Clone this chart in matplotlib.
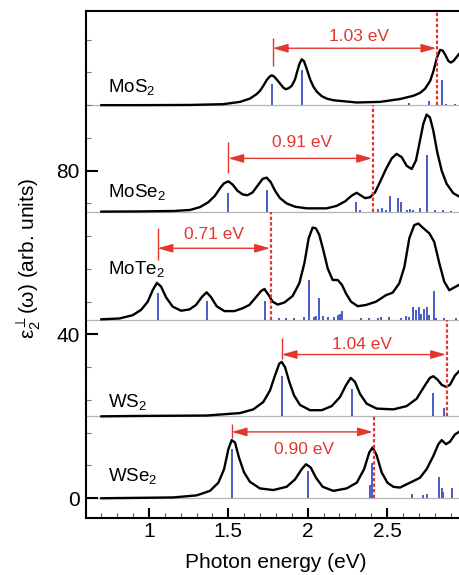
import matplotlib
matplotlib.use("Agg")
import matplotlib.pyplot as plt
from matplotlib.ticker import MultipleLocator, FixedLocator, FuncFormatter

plt.rcParams['font.family'] = ['Liberation Sans', 'DejaVu Sans']
plt.rcParams['mathtext.fontset'] = 'custom'
plt.rcParams['mathtext.rm'] = 'Liberation Sans'
plt.rcParams['mathtext.it'] = 'Liberation Sans:italic'
plt.rcParams['mathtext.bf'] = 'Liberation Sans:bold'
plt.rcParams['mathtext.fallback'] = 'stixsans'

# ---------------- data ----------------
materials = ['MoS$_2$', 'MoSe$_2$', 'MoTe$_2$', 'WS$_2$', 'WSe$_2$']
offsets = [96, 70, 43.6, 20, 0]
panel_tops = [119, 96, 70, 43.6, 20]
label_y = [99.3, 73.6, 54.8, 22.4, 4.1]

mos2_e = [0.70, 0.943, 1.258, 1.468, 1.573, 1.636, 1.678, 1.699, 1.720, 1.741,
          1.758, 1.773, 1.788, 1.804, 1.825, 1.846, 1.861, 1.878, 1.899, 1.920,
          1.935, 1.947, 1.962, 1.977, 1.994, 2.015, 2.036, 2.057, 2.088, 2.120,
          2.162, 2.309, 2.456, 2.582, 2.666, 2.708, 2.739, 2.771, 2.792, 2.813,
          2.834, 2.851, 2.865, 2.886, 2.901, 2.918, 2.939, 2.953]
mos2_v = [0.0, 0.0, 0.05, 0.24, 0.8, 1.6, 2.7, 3.5, 4.7, 6.1,
          6.9, 7.3, 7.0, 6.3, 5.3, 4.3, 3.9, 4.1, 4.7, 6.3,
          8.4, 10.0, 11.2, 10.7, 8.8, 6.3, 4.5, 3.3, 2.2, 1.6,
          1.2, 0.65, 0.8, 1.5, 2.3, 3.0, 4.0, 5.9, 8.3, 11.5,
          13.5, 13.3, 12.4, 10.8, 10.4, 10.8, 11.8, 12.5]

mose2_e = [0.70, 0.943, 1.153, 1.258, 1.321, 1.374, 1.416, 1.447, 1.472, 1.500,
           1.527, 1.557, 1.590, 1.620, 1.653, 1.689, 1.716, 1.741, 1.767, 1.794,
           1.825, 1.867, 1.920, 1.993, 2.119, 2.182, 2.235, 2.277, 2.308, 2.333,
           2.361, 2.392, 2.424, 2.455, 2.493, 2.529, 2.560, 2.592, 2.623, 2.655,
           2.682, 2.707, 2.728, 2.749, 2.770, 2.791, 2.816, 2.844, 2.875, 2.917,
           2.953]
mose2_v = [0.0, 0.05, 0.15, 0.4, 1.1, 2.3, 3.9, 5.7, 6.9, 7.4,
           6.6, 5.1, 4.2, 4.0, 4.7, 6.6, 8.0, 8.3, 7.2, 5.1,
           3.3, 2.0, 1.2, 0.8, 0.8, 1.4, 2.5, 3.9, 4.6, 4.0,
           3.3, 3.5, 4.7, 7.2, 10.4, 13.0, 14.1, 13.3, 11.2, 10.4,
           12.5, 17.3, 21.4, 23.7, 23.0, 19.8, 14.5, 10.0, 6.8, 4.5,
           3.7]

mote2_e = [0.70, 0.813, 0.897, 0.950, 0.992, 1.023, 1.050, 1.076, 1.107, 1.149,
           1.202, 1.254, 1.296, 1.334, 1.363, 1.391, 1.426, 1.475, 1.538, 1.590,
           1.632, 1.674, 1.706, 1.727, 1.754, 1.779, 1.811, 1.853, 1.905, 1.947,
           1.979, 2.006, 2.031, 2.052, 2.073, 2.098, 2.126, 2.157, 2.189, 2.216,
           2.241, 2.273, 2.315, 2.367, 2.430, 2.493, 2.535, 2.577, 2.609, 2.640,
           2.671, 2.697, 2.724, 2.766, 2.797, 2.829, 2.860, 2.892, 2.924, 2.953]
mote2_v = [0.1, 0.3, 1.1, 2.4, 4.4, 7.2, 9.0, 8.1, 5.5, 3.2,
           2.2, 2.5, 3.6, 5.6, 6.7, 5.5, 3.3, 2.1, 2.1, 2.8,
           3.6, 5.5, 7.0, 7.5, 6.0, 4.4, 3.7, 4.2, 5.8, 8.9,
           13.8, 19.9, 22.5, 22.3, 20.7, 17.0, 12.5, 9.7, 9.7, 8.5,
           6.4, 4.4, 3.3, 3.6, 4.4, 6.0, 6.6, 8.9, 12.9, 19.9,
           23.1, 23.5, 22.5, 21.1, 19.0, 13.8, 9.3, 7.2, 7.9, 8.5]

ws2_e = [0.70, 0.943, 1.363, 1.573, 1.657, 1.720, 1.762, 1.794, 1.821, 1.836,
         1.857, 1.884, 1.914, 1.951, 2.014, 2.088, 2.151, 2.203, 2.241, 2.271,
         2.298, 2.329, 2.371, 2.434, 2.539, 2.623, 2.686, 2.739, 2.770, 2.791,
         2.817, 2.844, 2.871, 2.896, 2.928, 2.953]
ws2_v = [0.0, 0.1, 0.2, 0.8, 1.7, 3.5, 6.3, 10.0, 12.9, 13.3,
         12.0, 8.4, 5.1, 2.8, 1.5, 1.5, 2.5, 4.7, 7.6, 9.4,
         8.4, 5.5, 3.1, 1.9, 1.7, 2.5, 4.3, 7.6, 9.4, 9.8,
         9.0, 7.7, 7.2, 7.7, 10.0, 11.0]

wse2_e = [0.70, 0.943, 1.153, 1.300, 1.384, 1.437, 1.473, 1.500, 1.521, 1.542,
          1.567, 1.599, 1.636, 1.699, 1.783, 1.867, 1.920, 1.962, 1.989, 2.019,
          2.052, 2.094, 2.161, 2.245, 2.309, 2.355, 2.388, 2.409, 2.434, 2.466,
          2.502, 2.539, 2.581, 2.623, 2.666, 2.707, 2.749, 2.791, 2.823, 2.844,
          2.871, 2.896, 2.928, 2.953]
wse2_v = [0.0, 0.1, 0.2, 0.7, 1.8, 3.8, 7.1, 12.0, 14.2, 13.6,
          9.9, 6.3, 4.0, 2.4, 2.0, 2.8, 4.6, 7.1, 8.3, 7.5,
          5.0, 2.8, 1.8, 2.4, 3.8, 7.1, 11.2, 12.4, 10.5, 6.3,
          3.8, 2.8, 2.6, 3.4, 4.2, 5.0, 7.1, 10.3, 13.2, 14.2,
          13.2, 13.8, 15.6, 16.2]

# oscillator-strength sticks
mos2_se = [1.777, 1.966, 2.640, 2.766, 2.844, 2.871, 2.928]
mos2_sh = [5.1, 8.5, 0.5, 0.9, 6.1, 0.3, 0.3]
mose2_se = [1.500, 1.745, 2.304, 2.330, 2.445, 2.470, 2.493, 2.518, 2.567, 2.586,
            2.624, 2.645, 2.666, 2.707, 2.753, 2.802, 2.854, 2.900]
mose2_sh = [4.5, 5.3, 2.3, 0.3, 0.65, 0.9, 0.5, 3.7, 3.3, 2.3,
            0.5, 0.6, 0.5, 0.8, 13.9, 0.5, 0.3, 0.2]
mote2_se = [1.054, 1.363, 1.731, 1.769, 1.821, 1.863, 1.916, 1.979, 2.010, 2.037,
            2.052, 2.069, 2.094, 2.126, 2.168, 2.189, 2.203, 2.214, 2.336, 2.388,
            2.441, 2.462, 2.510, 2.588, 2.619, 2.640, 2.661, 2.682, 2.699, 2.714,
            2.735, 2.749, 2.766, 2.798, 2.808, 2.861, 2.934]
mote2_sh = [6.6, 4.6, 4.6, 0.3, 0.3, 0.3, 0.3, 0.6, 9.8, 0.7,
            0.9, 5.4, 0.9, 0.6, 0.6, 1.1, 1.5, 2.2, 0.3, 0.4,
            0.5, 0.6, 0.6, 0.4, 0.9, 0.6, 3.2, 2.4, 3.0, 1.5,
            2.5, 3.2, 1.1, 7.0, 0.5, 0.3, 0.5]
ws2_se = [1.836, 2.279, 2.791, 2.859]
ws2_sh = [9.8, 6.8, 5.8, 2.0]
wse2_se = [1.523, 2.004, 2.392, 2.403, 2.655, 2.728, 2.749, 2.829, 2.844, 2.854, 2.911]
wse2_sh = [12.0, 6.7, 3.2, 8.7, 1.1, 0.7, 1.0, 5.3, 2.4, 1.5, 2.6]

# gap annotations
gap_start = [1.78, 1.50, 1.054, 1.836, 1.521]
gap_end = [2.815, 2.41, 1.767, 2.876, 2.415]
gap_labels = ['1.03 eV', '0.91 eV', '0.71 eV', '1.04 eV', '0.90 eV']
marker_lo = [105.6, 79.4, 58.2, 34.1, 14.7]
marker_hi = [112.4, 86.9, 65.9, 39.1, 18.2]
arrow_y = [109.9, 83.0, 61.05, 35.1, 16.2]
text_x = [2.32, 1.966, 1.411, 2.344, 1.977]
text_y = [111.6, 85.9, 63.2, 36.5, 10.9]

curves_e = [mos2_e, mose2_e, mote2_e, ws2_e, wse2_e]
curves_v = [mos2_v, mose2_v, mote2_v, ws2_v, wse2_v]
sticks_e = [mos2_se, mose2_se, mote2_se, ws2_se, wse2_se]
sticks_h = [mos2_sh, mose2_sh, mote2_sh, ws2_sh, wse2_sh]

xticks = [1, 1.5, 2, 2.5]
yticks = [0, 40, 80]

RED = '#e2362f'
BLUE = '#4a5bc6'

fig = plt.figure(figsize=(4.59, 5.75), dpi=100)
ax = fig.add_axes([0.1863, 0.0986, 0.8137, 0.8823])
ax.set_xlim(0.6, 2.953)
ax.set_ylim(-4.9, 119)

for i in range(5):
    off = offsets[i]
    ax.axhline(off, color='#b4b4b4', lw=0.9, zorder=1)
    ax.vlines(sticks_e[i], off, [off + h for h in sticks_h[i]], colors=BLUE, lw=1.4, zorder=3)
    ax.plot(curves_e[i], [off + v for v in curves_v[i]], color='k', lw=1.7, zorder=4,
            solid_joinstyle='round', clip_on=True)
    ax.text(0.744, label_y[i], materials[i], fontsize=13.5, ha='left', va='baseline', zorder=5)
    # gap annotation
    ax.vlines(gap_end[i], off, panel_tops[i], colors=RED, lw=1.6,
              linestyles=[(0, (1.5, 1.0))], zorder=5)
    ax.vlines(gap_start[i], marker_lo[i], marker_hi[i], colors=RED, lw=1.0, zorder=5)
    ax.annotate('', xy=(gap_end[i] - 0.005, arrow_y[i]), xytext=(gap_start[i], arrow_y[i]),
                arrowprops=dict(arrowstyle='<|-|>,head_length=0.7,head_width=0.2',
                                color=RED, lw=1.0, shrinkA=0, shrinkB=0, mutation_scale=13),
                zorder=5)
    ax.text(text_x[i], text_y[i], gap_labels[i], color=RED, fontsize=12.5,
            ha='center', va='baseline', zorder=5)

for side in ['left', 'bottom', 'top']:
    ax.spines[side].set_linewidth(1.5)
ax.spines['right'].set_visible(False)

ax.xaxis.set_major_locator(FixedLocator(xticks))
ax.xaxis.set_major_formatter(FuncFormatter(lambda v, p: '%g' % v))
ax.xaxis.set_minor_locator(MultipleLocator(0.1))
ax.yaxis.set_major_locator(FixedLocator(yticks))
ax.yaxis.set_minor_locator(MultipleLocator(8))

ax.tick_params(axis='x', which='major', direction='in', length=7, width=1.5,
               labelsize=15, pad=2.5, top=False)
ax.tick_params(axis='x', which='minor', direction='in', length=3.5, width=0.8,
               color='#555555', top=False)
ax.tick_params(axis='y', which='major', direction='in', length=8.5, width=1.5,
               labelsize=15, pad=4, right=False)
ax.tick_params(axis='y', which='minor', direction='in', length=3.5, width=0.8,
               color='#777777', right=False)

ax.set_xlabel('Photon energy (eV)', fontsize=15)
ax.xaxis.set_label_coords(0.51, -0.068)
ax.set_ylabel('ε$_2^{\\perp}$(ω) (arb. units)', fontsize=15)
ax.yaxis.set_label_coords(-0.114, 0.513)

fig.savefig('out.png', dpi=100)
